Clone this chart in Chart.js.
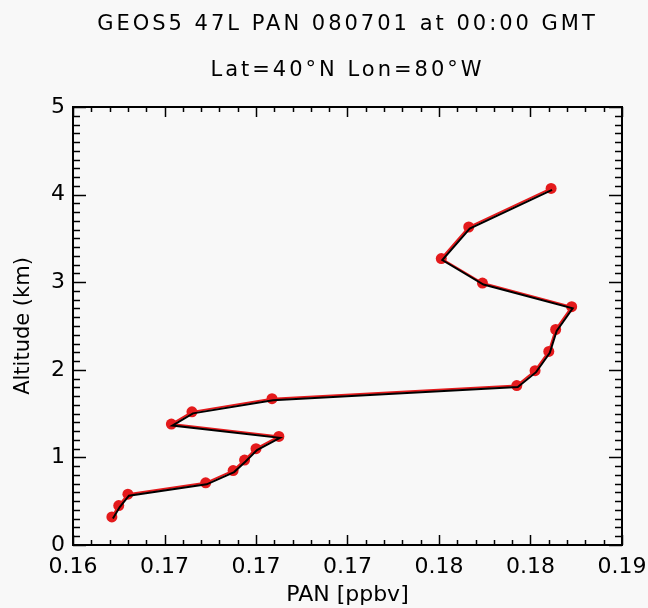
<!DOCTYPE html>
<html>
<head>
<meta charset="utf-8">
<script src="https://cdn.jsdelivr.net/npm/chart.js@4/dist/chart.umd.min.js"></script>
<style>
  html, body { margin: 0; padding: 0; background: #f8f8f8; }
  #wrap { width: 648px; height: 608px; }
  canvas { display: block; }
</style>
</head>
<body>
<div id="wrap"><canvas id="c" width="648" height="608"></canvas></div>
<script>
// ---- data ----
const titleLines = ['GEOS5 47L PAN 080701 at 00:00 GMT', 'Lat=40°N Lon=80°W'];
const xAxisTitle = 'PAN [ppbv]';
const yAxisTitle = 'Altitude (km)';

const altitudes = [0.32, 0.45, 0.58, 0.71, 0.85, 0.97, 1.10, 1.24, 1.38, 1.52,
                   1.67, 1.82, 1.99, 2.21, 2.46, 2.72, 2.99, 3.27, 3.63, 4.07];
const panValues = [0.1637, 0.1640, 0.1644, 0.1678, 0.1690, 0.1695, 0.1700, 0.1710, 0.1663, 0.1672,
                   0.1707, 0.1814, 0.1822, 0.1828, 0.1831, 0.1838, 0.1799, 0.1781, 0.1793, 0.1829];

const xTickValues = [0.162, 0.166, 0.170, 0.174, 0.178, 0.182, 0.186];
const xTickLabels = ['0.16', '0.17', '0.17', '0.17', '0.18', '0.18', '0.19'];
const yTickValues = [0, 1, 2, 3, 4, 5];
const yTickLabels = ['0', '1', '2', '3', '4', '5'];

// ---- chart ----
const points = panValues.map((v, i) => ({ x: v, y: altitudes[i] }));
const FONT = 'DejaVu Sans';

const frameTicks = {
  id: 'frameTicks',
  beforeDatasetDraw(chart, args) {
    if (args.index === 0) { chart.ctx.save(); chart.ctx.translate(1, 1.5); }
  },
  afterDatasetDraw(chart, args) {
    if (args.index === 0) { chart.ctx.restore(); }
  },
  afterDatasetsDraw(chart) {
    const { ctx, chartArea: a, scales: { x, y } } = chart;
    ctx.save();
    ctx.strokeStyle = '#000';
    ctx.lineWidth = 1.5;
    const xs = xTickValues[1] - xTickValues[0];
    ctx.beginPath();
    xTickValues.forEach((v, i) => {
      const px = Math.round(x.getPixelForValue(v)) + 0.5;
      ctx.moveTo(px, a.bottom); ctx.lineTo(px, a.bottom - 10);
      ctx.moveTo(px, a.top); ctx.lineTo(px, a.top + 10);
      if (i < xTickValues.length - 1) {
        for (let k = 1; k < 5; k++) {
          const mx = Math.round(x.getPixelForValue(v + k * xs / 5)) + 0.5;
          ctx.moveTo(mx, a.bottom); ctx.lineTo(mx, a.bottom - 5);
          ctx.moveTo(mx, a.top); ctx.lineTo(mx, a.top + 5);
        }
      }
    });
    const ys = yTickValues[1] - yTickValues[0];
    yTickValues.forEach((v, i) => {
      const py = Math.round(y.getPixelForValue(v)) + 0.5;
      ctx.moveTo(a.left, py); ctx.lineTo(a.left + 13, py);
      ctx.moveTo(a.right, py); ctx.lineTo(a.right - 13, py);
      if (i < yTickValues.length - 1) {
        for (let k = 1; k < 10; k++) {
          const my = Math.round(y.getPixelForValue(v + k * ys / 10)) + 0.5;
          ctx.moveTo(a.left, my); ctx.lineTo(a.left + 7, my);
          ctx.moveTo(a.right, my); ctx.lineTo(a.right - 7, my);
        }
      }
    });
    ctx.stroke();
    ctx.lineWidth = 2;
    ctx.strokeRect(Math.round(a.left), Math.round(a.top), Math.round(a.right - a.left), Math.round(a.bottom - a.top));
    ctx.restore();
  }
};

const chart = new Chart(document.getElementById('c'), {
  type: 'scatter',
  data: {
    datasets: [
      {
        data: points,
        showLine: true,
        borderColor: '#000',
        borderWidth: 2,
        pointRadius: 0,
        pointHoverRadius: 0
      },
      {
        data: points,
        showLine: true,
        borderColor: '#e41a1c',
        backgroundColor: '#e41a1c',
        borderWidth: 2,
        pointRadius: 5.5,
        pointBorderWidth: 0,
        pointBackgroundColor: '#e41a1c'
      }
    ]
  },
  options: {
    responsive: false,
    animation: false,
    events: [],
    layout: { padding: { left: 0, right: 26, top: 0, bottom: 0 } },
    plugins: {
      legend: { display: false },
      tooltip: { enabled: false },
      title: {
        display: true,
        text: titleLines,
        fullSize: false,
        color: '#000',
        font: { family: FONT, size: 21, weight: 'normal', lineHeight: '46px' },
        padding: { top: 1.5, bottom: 13.5 }
      }
    },
    scales: {
      x: {
        type: 'linear',
        min: xTickValues[0],
        max: xTickValues[xTickValues.length - 1],
        afterBuildTicks: (s) => { s.ticks = xTickValues.map(v => ({ value: v })); },
        afterFit: (s) => { s.height = 63; s.paddingLeft = 0; s.paddingRight = 0; },
        grid: { display: false, drawTicks: false },
        border: { display: false },
        ticks: {
          color: '#000',
          padding: 9,
          maxRotation: 0,
          autoSkip: false,
          font: { family: FONT, size: 22 },
          callback: (v, i) => xTickLabels[i]
        },
        title: {
          display: true,
          text: xAxisTitle,
          color: '#000',
          font: { family: FONT, size: 22 },
          padding: { top: 0, bottom: 0 }
        }
      },
      y: {
        type: 'linear',
        min: yTickValues[0],
        max: yTickValues[yTickValues.length - 1],
        afterBuildTicks: (s) => { s.ticks = yTickValues.map(v => ({ value: v })); },
        afterFit: (s) => { s.width = 73; s.paddingTop = 0; s.paddingBottom = 0; },
        grid: { display: false, drawTicks: false },
        border: { display: false },
        ticks: {
          color: '#000',
          padding: 8,
          autoSkip: false,
          font: { family: FONT, size: 22 },
          callback: (v, i) => yTickLabels[i]
        },
        title: {
          display: true,
          text: yAxisTitle,
          color: '#000',
          font: { family: FONT, size: 21 },
          padding: { top: 11.4, bottom: 14 }
        }
      }
    }
  },
  plugins: [frameTicks]
});

// wider letter spacing for the title, like the original vector font
const tb = chart.titleBlock;
if (tb) {
  const origDraw = tb.draw.bind(tb);
  tb.draw = function (area) {
    const ctx = chart.ctx;
    ctx.save();
    ctx.letterSpacing = '3px';
    origDraw(area);
    ctx.restore();
  };
  chart.draw();
}
</script>
</body>
</html>
